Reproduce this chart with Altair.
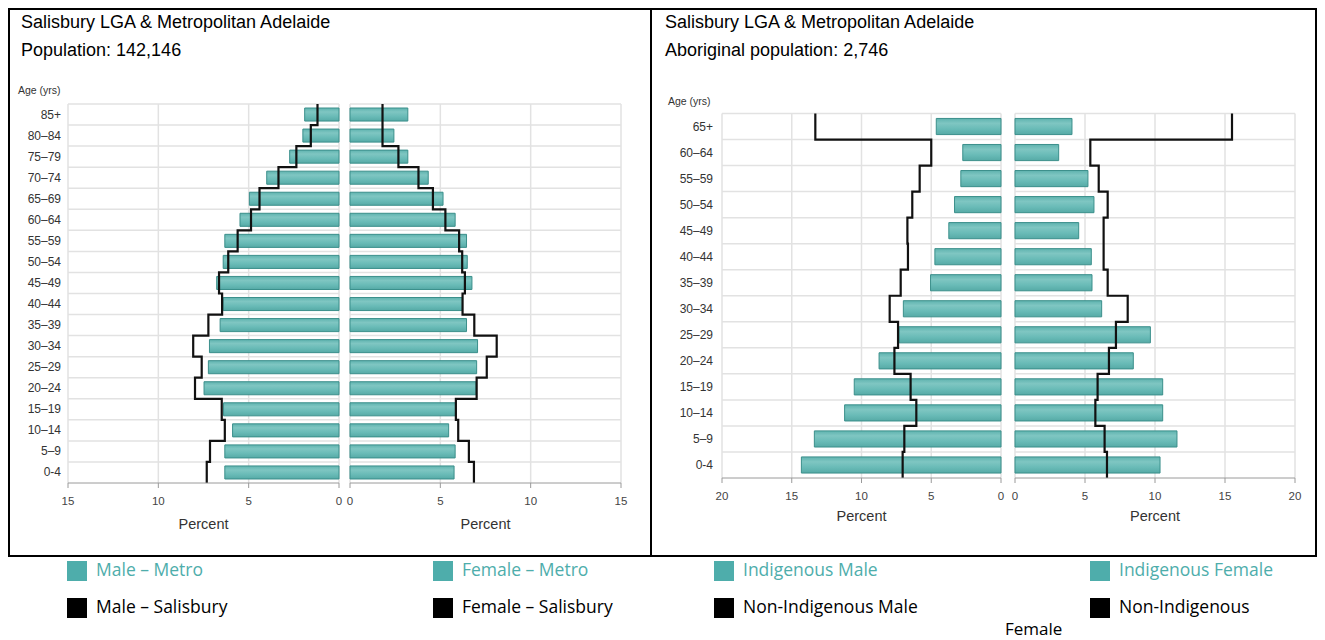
import altair as alt
import pandas as pd

# ---------------- data ----------------
ages_left = ["0-4", "5–9", "10–14", "15–19", "20–24", "25–29", "30–34", "35–39", "40–44",
             "45–49", "50–54", "55–59", "60–64", "65–69", "70–74", "75–79", "80–84", "85+"]
male_metro = [6.32, 6.32, 5.89, 6.39, 7.47, 7.23, 7.17, 6.58, 6.41, 6.77, 6.41, 6.32, 5.48, 4.96, 4.0, 2.73, 2.0, 1.9]
male_salisbury = [7.32, 7.14, 6.32, 6.49, 7.97, 7.6, 8.07, 7.23, 6.47, 6.64, 6.13, 5.61, 4.87, 4.4, 3.35, 2.36, 1.56, 1.19]
female_metro = [5.76, 5.82, 5.46, 5.84, 6.97, 7.01, 7.06, 6.45, 6.23, 6.75, 6.49, 6.45, 5.82, 5.15, 4.33, 3.2, 2.43, 3.2]
female_salisbury = [6.86, 6.58, 5.99, 5.86, 7.01, 7.57, 8.12, 6.88, 6.23, 6.36, 6.21, 6.04, 5.28, 4.59, 3.79, 2.68, 1.8, 1.8]

ages_right = ["0-4", "5–9", "10–14", "15–19", "20–24", "25–29", "30–34", "35–39", "40–44",
              "45–49", "50–54", "55–59", "60–64", "65+"]
indigenous_male = [14.31, 13.38, 11.21, 10.52, 8.74, 7.31, 7.0, 5.05, 4.74, 3.74, 3.33, 2.88, 2.74, 4.64]
non_indigenous_male = [7.05, 6.93, 6.07, 6.48, 7.64, 7.38, 7.98, 7.19, 6.67, 6.71, 6.36, 5.83, 5.0, 13.31]
indigenous_female = [10.36, 11.57, 10.55, 10.55, 8.45, 9.67, 6.19, 5.5, 5.45, 4.55, 5.64, 5.21, 3.12, 4.07]
non_indigenous_female = [6.57, 6.4, 5.74, 5.9, 6.71, 7.21, 8.05, 6.62, 6.33, 6.33, 6.62, 5.98, 5.38, 15.5]

ticks_left = [0, 5, 10, 15]
ticks_right = [0, 5, 10, 15, 20]

title_left = ["Salisbury LGA & Metropolitan Adelaide", "Population: 142,146"]
title_right = ["Salisbury LGA & Metropolitan Adelaide", "Aboriginal population: 2,746"]
axis_title_x = "Percent"
axis_title_y = "Age (yrs)"

legend_labels = [["Male – Metro", "Female – Metro", "Indigenous Male", "Indigenous Female"],
                 ["Male – Salisbury", "Female – Salisbury", "Non-Indigenous Male", "Non-Indigenous"]]
legend_extra = "Female"

# ---------------- styles ----------------
TEAL_STROKE = "#3b8f8b"
TEAL_LEGEND = "#4eadab"
GRID = "#e2e2e2"
AXIS = "#9a9a9a"
FONT = "Liberation Sans"
LEG_FONT = "Open Sans"
BAR_HALF = 0.31
H = 547
W_L, W_R = 642, 665

bar_fill = alt.Gradient(
    gradient="linear", x1=0, x2=0, y1=0, y2=1,
    stops=[alt.GradientStop(color="#5fb3af", offset=0),
           alt.GradientStop(color="#7fc6c2", offset=0.3),
           alt.GradientStop(color="#69bbb7", offset=0.65),
           alt.GradientStop(color="#56aaa6", offset=1)])


def half(vals, line_vals, xmax, xticks, xrange, yscale, n, pct_dy):
    xs = alt.Scale(domain=[0, xmax], range=xrange, nice=False, zero=False)
    bars_df = pd.DataFrame({"v": vals,
                            "zero": [0.0] * n,
                            "lo": [i - BAR_HALF for i in range(n)],
                            "hi": [i + BAR_HALF for i in range(n)]})
    line_rows = []
    for i, v in enumerate(line_vals):
        line_rows.append({"v": v, "yy": i - 0.5, "o": 2 * i})
        line_rows.append({"v": v, "yy": i + 0.5, "o": 2 * i + 1})
    line_df = pd.DataFrame(line_rows)

    gh_df = pd.DataFrame({"b": [i + 0.5 for i in range(n)], "x0": [0] * n, "x1": [xmax] * n})
    tk_df = pd.DataFrame({"t": xticks, "y0": [-0.5] * len(xticks), "y1": [n - 0.5] * len(xticks),
                          "lab": [str(t) for t in xticks]})
    dom_df = pd.DataFrame({"x0": [0], "x1": [xmax], "yb": [-0.5], "xm": [xmax / 2],
                           "t": [axis_title_x]})

    bars = alt.Chart(bars_df).mark_bar(color=bar_fill, stroke=TEAL_STROKE, strokeWidth=1).encode(
        x=alt.X("v:Q", scale=xs, axis=None),
        x2="zero:Q",
        y=alt.Y("lo:Q", scale=yscale, axis=None),
        y2="hi:Q")
    grid_h = alt.Chart(gh_df).mark_rule(color=GRID, strokeWidth=1.5).encode(
        x=alt.X("x0:Q", axis=None), x2="x1:Q", y=alt.Y("b:Q", axis=None))
    grid_v = alt.Chart(tk_df).mark_rule(color=GRID, strokeWidth=1.5).encode(
        x=alt.X("t:Q", axis=None), y=alt.Y("y0:Q", axis=None), y2="y1:Q")
    line = alt.Chart(line_df).mark_line(color="#111", strokeWidth=2.2).encode(
        x=alt.X("v:Q", axis=None), y=alt.Y("yy:Q", axis=None), order="o:Q")
    domain = alt.Chart(dom_df).mark_rule(color=AXIS, strokeWidth=1).encode(
        x=alt.X("x0:Q", axis=None), x2="x1:Q", y=alt.Y("yb:Q", axis=None))
    ticks = alt.Chart(tk_df).mark_point(shape="M0,0L0,1", size=100, filled=False,
                                        color=AXIS, strokeWidth=1, opacity=1).encode(
        x=alt.X("t:Q", axis=None), y=alt.Y("y0:Q", axis=None))
    labels = alt.Chart(tk_df).mark_text(font=FONT, fontSize=11.5, color="#444",
                                        baseline="middle", dy=19).encode(
        x=alt.X("t:Q", axis=None), y=alt.Y("y0:Q", axis=None), text="lab:N")
    pct = alt.Chart(dom_df).mark_text(font=FONT, fontSize=14.5, color="#333",
                                      baseline="middle", dy=pct_dy).encode(
        x=alt.X("xm:Q", axis=None), y=alt.Y("yb:Q", axis=None), text="t:N")
    return alt.layer(grid_h, grid_v, bars, line, domain, ticks, labels, pct)


def panel(ages, m_bar, m_line, f_bar, f_line, xmax, xticks, m_range, f_range, y_range,
          ylab_pad, age_dxy, pct_dy, titles, title_x, width):
    n = len(ages)
    yscale = alt.Scale(domain=[-0.5, n - 0.5], range=y_range, nice=False, zero=False)
    male = half(m_bar, m_line, xmax, xticks, m_range, yscale, n, pct_dy)
    female = half(f_bar, f_line, xmax, xticks, f_range, yscale, n, pct_dy)

    ylab_df = pd.DataFrame({"age": ages, "i": list(range(n)), "x": [xmax] * n})
    ylabels = alt.Chart(ylab_df).mark_text(font=FONT, fontSize=12, color="#333", align="right",
                                           baseline="middle", dx=-ylab_pad).encode(
        x=alt.X("x:Q", axis=None), y=alt.Y("i:Q", axis=None), text="age:N")
    ytitle_df = pd.DataFrame({"x": [xmax], "y": [n - 0.5], "t": [axis_title_y]})
    ytitle = alt.Chart(ytitle_df).mark_text(font=FONT, fontSize=10.5, color="#333", align="left",
                                            baseline="middle", dx=age_dxy[0], dy=age_dxy[1]).encode(
        x=alt.X("x:Q", axis=None), y=alt.Y("y:Q", axis=None), text="t:N")
    male = alt.layer(male, ylabels, ytitle)

    t1 = alt.Chart(pd.DataFrame({"t": [titles[0]]})).mark_text(
        align="left", baseline="middle", font=FONT, fontSize=18, color="#000").encode(
        text="t:N", x=alt.value(title_x), y=alt.value(14))
    t2 = alt.Chart(pd.DataFrame({"t": [titles[1]]})).mark_text(
        align="left", baseline="middle", font=FONT, fontSize=18, color="#000").encode(
        text="t:N", x=alt.value(title_x), y=alt.value(42))
    return alt.layer(male, female, t1, t2).resolve_scale(x="independent").properties(
        width=width, height=H)


left = panel(ages_left, male_metro, male_salisbury, female_metro, female_salisbury,
             15, ticks_left, [330, 59], [341, 612], [474, 95], 7, (-50, -13), 42,
             title_left, 12, W_L)
right = panel(ages_right, indigenous_male, non_indigenous_male, indigenous_female,
              non_indigenous_female, 20, ticks_right, [350, 71], [364, 644], [469, 104.5], 9,
              (-54, -12), 39, title_right, 14, W_R)

# ---------------- legend ----------------
col_sq = [68, 434, 715, 1091]
row_y = [14, 51]
dummy = pd.DataFrame({"a": [0]})
legend_layers = []
for r, labels in enumerate(legend_labels):
    col = TEAL_LEGEND if r == 0 else "#000"
    for c, lab in enumerate(labels):
        legend_layers.append(alt.Chart(dummy).mark_square(size=400, color=col, opacity=1).encode(
            x=alt.value(col_sq[c]), y=alt.value(row_y[r])))
        legend_layers.append(alt.Chart(dummy).mark_text(
            text=lab, align="left", baseline="middle", font=LEG_FONT, fontSize=17.5,
            color=col).encode(x=alt.value(col_sq[c] + 19), y=alt.value(row_y[r])))
legend_layers.append(alt.Chart(dummy).mark_text(
    text=legend_extra, align="left", baseline="middle", font=LEG_FONT, fontSize=17,
    color="#000").encode(x=alt.value(996), y=alt.value(73)))
legend = alt.layer(*legend_layers).properties(
    width=W_L + W_R, height=84, view=alt.ViewBackground(strokeWidth=0))

chart = alt.vconcat(
    alt.hconcat(left, right, spacing=0, bounds="flush"),
    legend, spacing=0
).properties(padding=0).configure_view(stroke="#000", strokeWidth=2)

chart.save("out.html", embed_options={"renderer": "svg", "actions": False})
